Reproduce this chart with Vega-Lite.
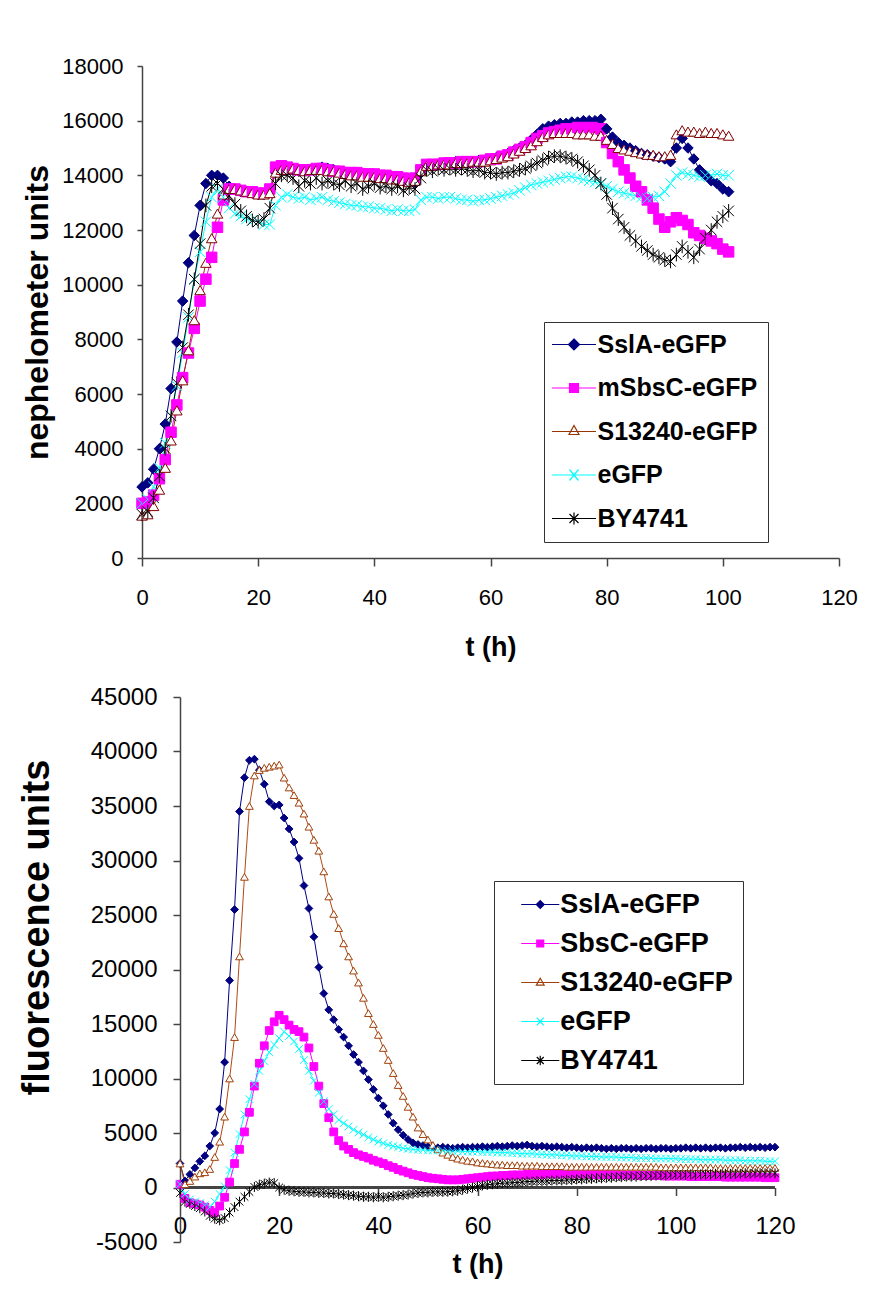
{
"$schema": "https://vega.github.io/schema/vega-lite/v6.json",
"padding": {"left": 18, "top": 55, "right": 5, "bottom": 5},
"background": "white",
"config": {
  "font": "Liberation Sans",
  "view": {"stroke": null},
  "axis": {"grid": false, "domainColor": "#444", "tickColor": "#444", "domainWidth": 1.5, "tickWidth": 1.5, "labelColor": "#000", "titleColor": "#000", "titleFontWeight": "bold", "labelFlush": false, "labelOverlap": false, "labelFont": "Liberation Sans", "titleFont": "Liberation Sans"},
  "legend": {"labelFont": "Liberation Sans", "labelFontWeight": "bold", "labelColor": "#000", "labelLimit": 400}
},
"datasets": {
"top": [
{"t":0,"SslA-eGFP":2600,"mSbsC-eGFP":2000,"S13240-eGFP":1550,"eGFP":2000,"BY4741":1600},
{"t":1,"SslA-eGFP":2750,"mSbsC-eGFP":2050,"S13240-eGFP":1600,"eGFP":2150,"BY4741":1700},
{"t":2,"SslA-eGFP":3250,"mSbsC-eGFP":2300,"S13240-eGFP":1900,"eGFP":2600,"BY4741":2200},
{"t":3,"SslA-eGFP":4000,"mSbsC-eGFP":2900,"S13240-eGFP":2500,"eGFP":3300,"BY4741":3000},
{"t":4,"SslA-eGFP":4900,"mSbsC-eGFP":3600,"S13240-eGFP":3300,"eGFP":4200,"BY4741":4000},
{"t":5,"SslA-eGFP":6200,"mSbsC-eGFP":4600,"S13240-eGFP":4300,"eGFP":5200,"BY4741":5200},
{"t":6,"SslA-eGFP":7900,"mSbsC-eGFP":5600,"S13240-eGFP":5400,"eGFP":6300,"BY4741":6400},
{"t":7,"SslA-eGFP":9400,"mSbsC-eGFP":6600,"S13240-eGFP":6500,"eGFP":7500,"BY4741":7700},
{"t":8,"SslA-eGFP":10800,"mSbsC-eGFP":7500,"S13240-eGFP":7600,"eGFP":8800,"BY4741":8900},
{"t":9,"SslA-eGFP":11800,"mSbsC-eGFP":8400,"S13240-eGFP":8700,"eGFP":10200,"BY4741":10200},
{"t":10,"SslA-eGFP":12900,"mSbsC-eGFP":9400,"S13240-eGFP":9800,"eGFP":11200,"BY4741":11500},
{"t":11,"SslA-eGFP":13700,"mSbsC-eGFP":10200,"S13240-eGFP":10800,"eGFP":12300,"BY4741":12900},
{"t":12,"SslA-eGFP":14000,"mSbsC-eGFP":11000,"S13240-eGFP":11700,"eGFP":13200,"BY4741":13600},
{"t":13,"SslA-eGFP":14000,"mSbsC-eGFP":12100,"S13240-eGFP":12600,"eGFP":13500,"BY4741":13700},
{"t":14,"SslA-eGFP":13900,"mSbsC-eGFP":13100,"S13240-eGFP":13300,"eGFP":13200,"BY4741":13500},
{"t":15,"SslA-eGFP":13600,"mSbsC-eGFP":13500,"S13240-eGFP":13500,"eGFP":12800,"BY4741":13250},
{"t":16,"SslA-eGFP":13500,"mSbsC-eGFP":13500,"S13240-eGFP":13500,"eGFP":12600,"BY4741":12950},
{"t":17,"SslA-eGFP":13400,"mSbsC-eGFP":13450,"S13240-eGFP":13450,"eGFP":12500,"BY4741":12700},
{"t":18,"SslA-eGFP":13400,"mSbsC-eGFP":13400,"S13240-eGFP":13400,"eGFP":12400,"BY4741":12500},
{"t":19,"SslA-eGFP":13350,"mSbsC-eGFP":13400,"S13240-eGFP":13350,"eGFP":12350,"BY4741":12350},
{"t":20,"SslA-eGFP":13300,"mSbsC-eGFP":13350,"S13240-eGFP":13300,"eGFP":12300,"BY4741":12300},
{"t":21,"SslA-eGFP":13300,"mSbsC-eGFP":13350,"S13240-eGFP":13300,"eGFP":12200,"BY4741":12400},
{"t":22,"SslA-eGFP":13400,"mSbsC-eGFP":13500,"S13240-eGFP":13350,"eGFP":12200,"BY4741":12800},
{"t":23,"SslA-eGFP":14100,"mSbsC-eGFP":14300,"S13240-eGFP":14100,"eGFP":12900,"BY4741":13700},
{"t":24,"SslA-eGFP":14300,"mSbsC-eGFP":14350,"S13240-eGFP":14200,"eGFP":13200,"BY4741":14000},
{"t":25,"SslA-eGFP":14300,"mSbsC-eGFP":14300,"S13240-eGFP":14200,"eGFP":13300,"BY4741":14000},
{"t":26,"SslA-eGFP":14200,"mSbsC-eGFP":14250,"S13240-eGFP":14250,"eGFP":13200,"BY4741":13900},
{"t":27,"SslA-eGFP":14150,"mSbsC-eGFP":14200,"S13240-eGFP":14200,"eGFP":13150,"BY4741":13600},
{"t":28,"SslA-eGFP":14200,"mSbsC-eGFP":14200,"S13240-eGFP":14150,"eGFP":13200,"BY4741":13800},
{"t":29,"SslA-eGFP":14200,"mSbsC-eGFP":14200,"S13240-eGFP":14200,"eGFP":13100,"BY4741":13700},
{"t":30,"SslA-eGFP":14250,"mSbsC-eGFP":14250,"S13240-eGFP":14200,"eGFP":13150,"BY4741":13900},
{"t":31,"SslA-eGFP":14300,"mSbsC-eGFP":14250,"S13240-eGFP":14200,"eGFP":13200,"BY4741":13700},
{"t":32,"SslA-eGFP":14250,"mSbsC-eGFP":14200,"S13240-eGFP":14150,"eGFP":13100,"BY4741":13800},
{"t":33,"SslA-eGFP":14200,"mSbsC-eGFP":14150,"S13240-eGFP":14150,"eGFP":13050,"BY4741":13700},
{"t":34,"SslA-eGFP":14150,"mSbsC-eGFP":14150,"S13240-eGFP":14100,"eGFP":13000,"BY4741":13650},
{"t":35,"SslA-eGFP":14100,"mSbsC-eGFP":14100,"S13240-eGFP":14050,"eGFP":12950,"BY4741":13800},
{"t":36,"SslA-eGFP":14100,"mSbsC-eGFP":14100,"S13240-eGFP":14000,"eGFP":12900,"BY4741":13600},
{"t":37,"SslA-eGFP":14050,"mSbsC-eGFP":14100,"S13240-eGFP":14000,"eGFP":12900,"BY4741":13700},
{"t":38,"SslA-eGFP":14000,"mSbsC-eGFP":14050,"S13240-eGFP":13950,"eGFP":12850,"BY4741":13500},
{"t":39,"SslA-eGFP":14000,"mSbsC-eGFP":14050,"S13240-eGFP":13950,"eGFP":12850,"BY4741":13600},
{"t":40,"SslA-eGFP":14000,"mSbsC-eGFP":14050,"S13240-eGFP":13950,"eGFP":12800,"BY4741":13700},
{"t":41,"SslA-eGFP":13950,"mSbsC-eGFP":14000,"S13240-eGFP":13900,"eGFP":12800,"BY4741":13550},
{"t":42,"SslA-eGFP":13900,"mSbsC-eGFP":14000,"S13240-eGFP":13900,"eGFP":12750,"BY4741":13600},
{"t":43,"SslA-eGFP":13900,"mSbsC-eGFP":13950,"S13240-eGFP":13850,"eGFP":12700,"BY4741":13500},
{"t":44,"SslA-eGFP":13850,"mSbsC-eGFP":13950,"S13240-eGFP":13850,"eGFP":12750,"BY4741":13600},
{"t":45,"SslA-eGFP":13800,"mSbsC-eGFP":13900,"S13240-eGFP":13800,"eGFP":12700,"BY4741":13450},
{"t":46,"SslA-eGFP":13750,"mSbsC-eGFP":13850,"S13240-eGFP":13750,"eGFP":12700,"BY4741":13550},
{"t":47,"SslA-eGFP":13750,"mSbsC-eGFP":13900,"S13240-eGFP":13800,"eGFP":12750,"BY4741":13500},
{"t":48,"SslA-eGFP":14100,"mSbsC-eGFP":14200,"S13240-eGFP":14150,"eGFP":13100,"BY4741":13900},
{"t":49,"SslA-eGFP":14350,"mSbsC-eGFP":14400,"S13240-eGFP":14350,"eGFP":13200,"BY4741":14200},
{"t":50,"SslA-eGFP":14400,"mSbsC-eGFP":14400,"S13240-eGFP":14350,"eGFP":13200,"BY4741":14150},
{"t":51,"SslA-eGFP":14400,"mSbsC-eGFP":14400,"S13240-eGFP":14400,"eGFP":13150,"BY4741":14250},
{"t":52,"SslA-eGFP":14450,"mSbsC-eGFP":14450,"S13240-eGFP":14400,"eGFP":13200,"BY4741":14200},
{"t":53,"SslA-eGFP":14450,"mSbsC-eGFP":14450,"S13240-eGFP":14400,"eGFP":13200,"BY4741":14250},
{"t":54,"SslA-eGFP":14500,"mSbsC-eGFP":14450,"S13240-eGFP":14450,"eGFP":13150,"BY4741":14200},
{"t":55,"SslA-eGFP":14500,"mSbsC-eGFP":14500,"S13240-eGFP":14450,"eGFP":13100,"BY4741":14250},
{"t":56,"SslA-eGFP":14500,"mSbsC-eGFP":14500,"S13240-eGFP":14450,"eGFP":13100,"BY4741":14200},
{"t":57,"SslA-eGFP":14500,"mSbsC-eGFP":14500,"S13240-eGFP":14500,"eGFP":13050,"BY4741":14150},
{"t":58,"SslA-eGFP":14550,"mSbsC-eGFP":14500,"S13240-eGFP":14500,"eGFP":13100,"BY4741":14200},
{"t":59,"SslA-eGFP":14550,"mSbsC-eGFP":14550,"S13240-eGFP":14500,"eGFP":13100,"BY4741":14100},
{"t":60,"SslA-eGFP":14600,"mSbsC-eGFP":14600,"S13240-eGFP":14550,"eGFP":13150,"BY4741":14100},
{"t":61,"SslA-eGFP":14650,"mSbsC-eGFP":14600,"S13240-eGFP":14600,"eGFP":13200,"BY4741":14050},
{"t":62,"SslA-eGFP":14700,"mSbsC-eGFP":14700,"S13240-eGFP":14650,"eGFP":13250,"BY4741":14100},
{"t":63,"SslA-eGFP":14800,"mSbsC-eGFP":14750,"S13240-eGFP":14700,"eGFP":13300,"BY4741":14100},
{"t":64,"SslA-eGFP":14900,"mSbsC-eGFP":14850,"S13240-eGFP":14800,"eGFP":13350,"BY4741":14150},
{"t":65,"SslA-eGFP":15000,"mSbsC-eGFP":14950,"S13240-eGFP":14900,"eGFP":13450,"BY4741":14200},
{"t":66,"SslA-eGFP":15100,"mSbsC-eGFP":15050,"S13240-eGFP":15000,"eGFP":13550,"BY4741":14250},
{"t":67,"SslA-eGFP":15300,"mSbsC-eGFP":15200,"S13240-eGFP":15100,"eGFP":13650,"BY4741":14350},
{"t":68,"SslA-eGFP":15500,"mSbsC-eGFP":15350,"S13240-eGFP":15250,"eGFP":13700,"BY4741":14450},
{"t":69,"SslA-eGFP":15700,"mSbsC-eGFP":15450,"S13240-eGFP":15400,"eGFP":13750,"BY4741":14550},
{"t":70,"SslA-eGFP":15800,"mSbsC-eGFP":15550,"S13240-eGFP":15500,"eGFP":13800,"BY4741":14650},
{"t":71,"SslA-eGFP":15850,"mSbsC-eGFP":15600,"S13240-eGFP":15550,"eGFP":13850,"BY4741":14700},
{"t":72,"SslA-eGFP":15900,"mSbsC-eGFP":15650,"S13240-eGFP":15550,"eGFP":13900,"BY4741":14700},
{"t":73,"SslA-eGFP":15900,"mSbsC-eGFP":15700,"S13240-eGFP":15550,"eGFP":13950,"BY4741":14650},
{"t":74,"SslA-eGFP":15950,"mSbsC-eGFP":15700,"S13240-eGFP":15550,"eGFP":13950,"BY4741":14600},
{"t":75,"SslA-eGFP":15950,"mSbsC-eGFP":15750,"S13240-eGFP":15500,"eGFP":13900,"BY4741":14500},
{"t":76,"SslA-eGFP":16000,"mSbsC-eGFP":15750,"S13240-eGFP":15500,"eGFP":13850,"BY4741":14350},
{"t":77,"SslA-eGFP":16000,"mSbsC-eGFP":15750,"S13240-eGFP":15500,"eGFP":13800,"BY4741":14200},
{"t":78,"SslA-eGFP":16000,"mSbsC-eGFP":15750,"S13240-eGFP":15450,"eGFP":13750,"BY4741":14000},
{"t":79,"SslA-eGFP":16050,"mSbsC-eGFP":15700,"S13240-eGFP":15450,"eGFP":13700,"BY4741":13700},
{"t":80,"SslA-eGFP":15700,"mSbsC-eGFP":15200,"S13240-eGFP":15300,"eGFP":13600,"BY4741":13300},
{"t":81,"SslA-eGFP":15400,"mSbsC-eGFP":14800,"S13240-eGFP":15150,"eGFP":13500,"BY4741":12800},
{"t":82,"SslA-eGFP":15200,"mSbsC-eGFP":14500,"S13240-eGFP":15000,"eGFP":13400,"BY4741":12400},
{"t":83,"SslA-eGFP":15100,"mSbsC-eGFP":14200,"S13240-eGFP":14950,"eGFP":13350,"BY4741":12100},
{"t":84,"SslA-eGFP":15000,"mSbsC-eGFP":13900,"S13240-eGFP":14900,"eGFP":13300,"BY4741":11800},
{"t":85,"SslA-eGFP":14900,"mSbsC-eGFP":13600,"S13240-eGFP":14850,"eGFP":13250,"BY4741":11600},
{"t":86,"SslA-eGFP":14800,"mSbsC-eGFP":13400,"S13240-eGFP":14800,"eGFP":13200,"BY4741":11400},
{"t":87,"SslA-eGFP":14750,"mSbsC-eGFP":13100,"S13240-eGFP":14750,"eGFP":13150,"BY4741":11250},
{"t":88,"SslA-eGFP":14700,"mSbsC-eGFP":12800,"S13240-eGFP":14750,"eGFP":13200,"BY4741":11100},
{"t":89,"SslA-eGFP":14650,"mSbsC-eGFP":12400,"S13240-eGFP":14700,"eGFP":13250,"BY4741":11000},
{"t":90,"SslA-eGFP":14600,"mSbsC-eGFP":12100,"S13240-eGFP":14700,"eGFP":13400,"BY4741":10900},
{"t":91,"SslA-eGFP":14500,"mSbsC-eGFP":12300,"S13240-eGFP":14750,"eGFP":13700,"BY4741":10850},
{"t":92,"SslA-eGFP":15000,"mSbsC-eGFP":12450,"S13240-eGFP":15500,"eGFP":14000,"BY4741":11100},
{"t":93,"SslA-eGFP":15350,"mSbsC-eGFP":12350,"S13240-eGFP":15650,"eGFP":14100,"BY4741":11400},
{"t":94,"SslA-eGFP":15000,"mSbsC-eGFP":12200,"S13240-eGFP":15600,"eGFP":14050,"BY4741":11200},
{"t":95,"SslA-eGFP":14600,"mSbsC-eGFP":11900,"S13240-eGFP":15600,"eGFP":14000,"BY4741":11000},
{"t":96,"SslA-eGFP":14200,"mSbsC-eGFP":11800,"S13240-eGFP":15550,"eGFP":13950,"BY4741":11300},
{"t":97,"SslA-eGFP":14000,"mSbsC-eGFP":11700,"S13240-eGFP":15600,"eGFP":14000,"BY4741":11700},
{"t":98,"SslA-eGFP":13800,"mSbsC-eGFP":11600,"S13240-eGFP":15550,"eGFP":14000,"BY4741":12000},
{"t":99,"SslA-eGFP":13700,"mSbsC-eGFP":11500,"S13240-eGFP":15550,"eGFP":14050,"BY4741":12300},
{"t":100,"SslA-eGFP":13500,"mSbsC-eGFP":11300,"S13240-eGFP":15500,"eGFP":14000,"BY4741":12500},
{"t":101,"SslA-eGFP":13400,"mSbsC-eGFP":11200,"S13240-eGFP":15450,"eGFP":14000,"BY4741":12700}
],
"bottom": [
{"t":0,"SslA-eGFP":2200,"SbsC-eGFP":300,"S13240-eGFP":2200,"eGFP":300,"BY4741":-500},
{"t":1,"SslA-eGFP":600,"SbsC-eGFP":-1000,"S13240-eGFP":300,"eGFP":-600,"BY4741":-1300},
{"t":2,"SslA-eGFP":1200,"SbsC-eGFP":-1400,"S13240-eGFP":600,"eGFP":-1100,"BY4741":-1500},
{"t":3,"SslA-eGFP":1800,"SbsC-eGFP":-1500,"S13240-eGFP":1000,"eGFP":-1300,"BY4741":-1700},
{"t":4,"SslA-eGFP":2400,"SbsC-eGFP":-1600,"S13240-eGFP":1300,"eGFP":-1450,"BY4741":-1900},
{"t":5,"SslA-eGFP":2900,"SbsC-eGFP":-1800,"S13240-eGFP":1400,"eGFP":-1650,"BY4741":-2200},
{"t":6,"SslA-eGFP":3800,"SbsC-eGFP":-2100,"S13240-eGFP":1700,"eGFP":-1800,"BY4741":-2600},
{"t":7,"SslA-eGFP":5000,"SbsC-eGFP":-2300,"S13240-eGFP":2800,"eGFP":-1300,"BY4741":-2850},
{"t":8,"SslA-eGFP":7200,"SbsC-eGFP":-1700,"S13240-eGFP":4200,"eGFP":-600,"BY4741":-3000},
{"t":9,"SslA-eGFP":11500,"SbsC-eGFP":-900,"S13240-eGFP":6500,"eGFP":100,"BY4741":-2800},
{"t":10,"SslA-eGFP":19000,"SbsC-eGFP":500,"S13240-eGFP":10000,"eGFP":1600,"BY4741":-2300},
{"t":11,"SslA-eGFP":25500,"SbsC-eGFP":2200,"S13240-eGFP":13800,"eGFP":3200,"BY4741":-1800},
{"t":12,"SslA-eGFP":34500,"SbsC-eGFP":3500,"S13240-eGFP":21200,"eGFP":4900,"BY4741":-1300},
{"t":13,"SslA-eGFP":37600,"SbsC-eGFP":5100,"S13240-eGFP":28500,"eGFP":6700,"BY4741":-850},
{"t":14,"SslA-eGFP":39200,"SbsC-eGFP":6900,"S13240-eGFP":35000,"eGFP":8100,"BY4741":-400},
{"t":15,"SslA-eGFP":39300,"SbsC-eGFP":9300,"S13240-eGFP":37800,"eGFP":9500,"BY4741":50},
{"t":16,"SslA-eGFP":38300,"SbsC-eGFP":11400,"S13240-eGFP":38300,"eGFP":10700,"BY4741":250},
{"t":17,"SslA-eGFP":37000,"SbsC-eGFP":13000,"S13240-eGFP":38500,"eGFP":11600,"BY4741":350},
{"t":18,"SslA-eGFP":35400,"SbsC-eGFP":14400,"S13240-eGFP":38600,"eGFP":12400,"BY4741":450},
{"t":19,"SslA-eGFP":35000,"SbsC-eGFP":15200,"S13240-eGFP":38700,"eGFP":13100,"BY4741":400},
{"t":20,"SslA-eGFP":35100,"SbsC-eGFP":15800,"S13240-eGFP":38800,"eGFP":13700,"BY4741":0},
{"t":21,"SslA-eGFP":33900,"SbsC-eGFP":15400,"S13240-eGFP":37600,"eGFP":14300,"BY4741":-200},
{"t":22,"SslA-eGFP":32900,"SbsC-eGFP":14900,"S13240-eGFP":36700,"eGFP":13900,"BY4741":-300},
{"t":23,"SslA-eGFP":31700,"SbsC-eGFP":14500,"S13240-eGFP":36000,"eGFP":13400,"BY4741":-350},
{"t":24,"SslA-eGFP":30200,"SbsC-eGFP":14300,"S13240-eGFP":35300,"eGFP":12700,"BY4741":-400},
{"t":25,"SslA-eGFP":27700,"SbsC-eGFP":13800,"S13240-eGFP":34300,"eGFP":11700,"BY4741":-400},
{"t":26,"SslA-eGFP":25600,"SbsC-eGFP":12800,"S13240-eGFP":33100,"eGFP":10700,"BY4741":-450},
{"t":27,"SslA-eGFP":23000,"SbsC-eGFP":11100,"S13240-eGFP":31900,"eGFP":9800,"BY4741":-450},
{"t":28,"SslA-eGFP":20200,"SbsC-eGFP":9300,"S13240-eGFP":30900,"eGFP":8700,"BY4741":-500},
{"t":29,"SslA-eGFP":17800,"SbsC-eGFP":7700,"S13240-eGFP":29000,"eGFP":7900,"BY4741":-500},
{"t":30,"SslA-eGFP":16300,"SbsC-eGFP":6400,"S13240-eGFP":26700,"eGFP":7200,"BY4741":-550},
{"t":31,"SslA-eGFP":15400,"SbsC-eGFP":5100,"S13240-eGFP":25100,"eGFP":6700,"BY4741":-550},
{"t":32,"SslA-eGFP":14500,"SbsC-eGFP":4300,"S13240-eGFP":23800,"eGFP":6200,"BY4741":-600},
{"t":33,"SslA-eGFP":13800,"SbsC-eGFP":3800,"S13240-eGFP":22400,"eGFP":5900,"BY4741":-650},
{"t":34,"SslA-eGFP":13000,"SbsC-eGFP":3500,"S13240-eGFP":21200,"eGFP":5600,"BY4741":-700},
{"t":35,"SslA-eGFP":12200,"SbsC-eGFP":3200,"S13240-eGFP":19900,"eGFP":5300,"BY4741":-750},
{"t":36,"SslA-eGFP":11500,"SbsC-eGFP":3000,"S13240-eGFP":18800,"eGFP":5050,"BY4741":-800},
{"t":37,"SslA-eGFP":10700,"SbsC-eGFP":2850,"S13240-eGFP":17400,"eGFP":4850,"BY4741":-850},
{"t":38,"SslA-eGFP":9900,"SbsC-eGFP":2700,"S13240-eGFP":16000,"eGFP":4600,"BY4741":-850},
{"t":39,"SslA-eGFP":9000,"SbsC-eGFP":2500,"S13240-eGFP":15000,"eGFP":4400,"BY4741":-900},
{"t":40,"SslA-eGFP":8200,"SbsC-eGFP":2350,"S13240-eGFP":14000,"eGFP":4200,"BY4741":-850},
{"t":41,"SslA-eGFP":7500,"SbsC-eGFP":2200,"S13240-eGFP":12800,"eGFP":4050,"BY4741":-900},
{"t":42,"SslA-eGFP":6700,"SbsC-eGFP":2000,"S13240-eGFP":11700,"eGFP":3900,"BY4741":-850},
{"t":43,"SslA-eGFP":5900,"SbsC-eGFP":1850,"S13240-eGFP":10500,"eGFP":3800,"BY4741":-800},
{"t":44,"SslA-eGFP":5300,"SbsC-eGFP":1650,"S13240-eGFP":9400,"eGFP":3700,"BY4741":-750},
{"t":45,"SslA-eGFP":4800,"SbsC-eGFP":1500,"S13240-eGFP":8400,"eGFP":3600,"BY4741":-700},
{"t":46,"SslA-eGFP":4400,"SbsC-eGFP":1350,"S13240-eGFP":7400,"eGFP":3550,"BY4741":-650},
{"t":47,"SslA-eGFP":4100,"SbsC-eGFP":1200,"S13240-eGFP":6500,"eGFP":3500,"BY4741":-550},
{"t":48,"SslA-eGFP":3950,"SbsC-eGFP":1100,"S13240-eGFP":5500,"eGFP":3450,"BY4741":-500},
{"t":49,"SslA-eGFP":3850,"SbsC-eGFP":1000,"S13240-eGFP":4900,"eGFP":3450,"BY4741":-450},
{"t":50,"SslA-eGFP":3750,"SbsC-eGFP":900,"S13240-eGFP":4400,"eGFP":3400,"BY4741":-450},
{"t":51,"SslA-eGFP":3700,"SbsC-eGFP":850,"S13240-eGFP":3900,"eGFP":3400,"BY4741":-400},
{"t":52,"SslA-eGFP":3650,"SbsC-eGFP":800,"S13240-eGFP":3500,"eGFP":3400,"BY4741":-400},
{"t":53,"SslA-eGFP":3700,"SbsC-eGFP":750,"S13240-eGFP":3200,"eGFP":3400,"BY4741":-400},
{"t":54,"SslA-eGFP":3650,"SbsC-eGFP":700,"S13240-eGFP":3000,"eGFP":3350,"BY4741":-380},
{"t":55,"SslA-eGFP":3600,"SbsC-eGFP":700,"S13240-eGFP":2800,"eGFP":3350,"BY4741":-350},
{"t":56,"SslA-eGFP":3650,"SbsC-eGFP":700,"S13240-eGFP":2650,"eGFP":3350,"BY4741":-300},
{"t":57,"SslA-eGFP":3700,"SbsC-eGFP":750,"S13240-eGFP":2550,"eGFP":3300,"BY4741":-200},
{"t":58,"SslA-eGFP":3650,"SbsC-eGFP":800,"S13240-eGFP":2450,"eGFP":3300,"BY4741":-100},
{"t":59,"SslA-eGFP":3700,"SbsC-eGFP":850,"S13240-eGFP":2400,"eGFP":3300,"BY4741":0},
{"t":60,"SslA-eGFP":3700,"SbsC-eGFP":900,"S13240-eGFP":2300,"eGFP":3300,"BY4741":100},
{"t":61,"SslA-eGFP":3750,"SbsC-eGFP":950,"S13240-eGFP":2250,"eGFP":3250,"BY4741":200},
{"t":62,"SslA-eGFP":3700,"SbsC-eGFP":1000,"S13240-eGFP":2200,"eGFP":3250,"BY4741":250},
{"t":63,"SslA-eGFP":3750,"SbsC-eGFP":1050,"S13240-eGFP":2150,"eGFP":3250,"BY4741":300},
{"t":64,"SslA-eGFP":3800,"SbsC-eGFP":1050,"S13240-eGFP":2100,"eGFP":3200,"BY4741":350},
{"t":65,"SslA-eGFP":3750,"SbsC-eGFP":1100,"S13240-eGFP":2100,"eGFP":3200,"BY4741":400},
{"t":66,"SslA-eGFP":3800,"SbsC-eGFP":1100,"S13240-eGFP":2050,"eGFP":3200,"BY4741":400},
{"t":67,"SslA-eGFP":3850,"SbsC-eGFP":1150,"S13240-eGFP":2050,"eGFP":3150,"BY4741":450},
{"t":68,"SslA-eGFP":3800,"SbsC-eGFP":1150,"S13240-eGFP":2050,"eGFP":3150,"BY4741":450},
{"t":69,"SslA-eGFP":3850,"SbsC-eGFP":1150,"S13240-eGFP":2000,"eGFP":3100,"BY4741":500},
{"t":70,"SslA-eGFP":3900,"SbsC-eGFP":1200,"S13240-eGFP":2000,"eGFP":3100,"BY4741":550},
{"t":71,"SslA-eGFP":3800,"SbsC-eGFP":1200,"S13240-eGFP":2000,"eGFP":3100,"BY4741":550},
{"t":72,"SslA-eGFP":3750,"SbsC-eGFP":1200,"S13240-eGFP":2000,"eGFP":3050,"BY4741":600},
{"t":73,"SslA-eGFP":3800,"SbsC-eGFP":1200,"S13240-eGFP":1950,"eGFP":3050,"BY4741":600},
{"t":74,"SslA-eGFP":3750,"SbsC-eGFP":1250,"S13240-eGFP":1950,"eGFP":3000,"BY4741":600},
{"t":75,"SslA-eGFP":3700,"SbsC-eGFP":1250,"S13240-eGFP":1950,"eGFP":3000,"BY4741":650},
{"t":76,"SslA-eGFP":3750,"SbsC-eGFP":1250,"S13240-eGFP":1950,"eGFP":3000,"BY4741":650},
{"t":77,"SslA-eGFP":3700,"SbsC-eGFP":1250,"S13240-eGFP":1950,"eGFP":2950,"BY4741":650},
{"t":78,"SslA-eGFP":3650,"SbsC-eGFP":1250,"S13240-eGFP":1900,"eGFP":2950,"BY4741":700},
{"t":79,"SslA-eGFP":3700,"SbsC-eGFP":1250,"S13240-eGFP":1900,"eGFP":2900,"BY4741":700},
{"t":80,"SslA-eGFP":3650,"SbsC-eGFP":1250,"S13240-eGFP":1900,"eGFP":2900,"BY4741":750},
{"t":81,"SslA-eGFP":3600,"SbsC-eGFP":1250,"S13240-eGFP":1900,"eGFP":2900,"BY4741":750},
{"t":82,"SslA-eGFP":3650,"SbsC-eGFP":1250,"S13240-eGFP":1900,"eGFP":2850,"BY4741":800},
{"t":83,"SslA-eGFP":3600,"SbsC-eGFP":1250,"S13240-eGFP":1900,"eGFP":2850,"BY4741":800},
{"t":84,"SslA-eGFP":3650,"SbsC-eGFP":1200,"S13240-eGFP":1900,"eGFP":2850,"BY4741":850},
{"t":85,"SslA-eGFP":3600,"SbsC-eGFP":1200,"S13240-eGFP":1900,"eGFP":2800,"BY4741":850},
{"t":86,"SslA-eGFP":3550,"SbsC-eGFP":1200,"S13240-eGFP":1900,"eGFP":2800,"BY4741":900},
{"t":87,"SslA-eGFP":3600,"SbsC-eGFP":1200,"S13240-eGFP":1900,"eGFP":2800,"BY4741":900},
{"t":88,"SslA-eGFP":3550,"SbsC-eGFP":1200,"S13240-eGFP":1900,"eGFP":2800,"BY4741":950},
{"t":89,"SslA-eGFP":3600,"SbsC-eGFP":1150,"S13240-eGFP":1900,"eGFP":2750,"BY4741":950},
{"t":90,"SslA-eGFP":3600,"SbsC-eGFP":1150,"S13240-eGFP":1900,"eGFP":2750,"BY4741":1000},
{"t":91,"SslA-eGFP":3550,"SbsC-eGFP":1150,"S13240-eGFP":1900,"eGFP":2750,"BY4741":1000},
{"t":92,"SslA-eGFP":3600,"SbsC-eGFP":1150,"S13240-eGFP":1900,"eGFP":2700,"BY4741":1000},
{"t":93,"SslA-eGFP":3550,"SbsC-eGFP":1100,"S13240-eGFP":1900,"eGFP":2700,"BY4741":1050},
{"t":94,"SslA-eGFP":3600,"SbsC-eGFP":1100,"S13240-eGFP":1900,"eGFP":2700,"BY4741":1050},
{"t":95,"SslA-eGFP":3600,"SbsC-eGFP":1100,"S13240-eGFP":1900,"eGFP":2700,"BY4741":1050},
{"t":96,"SslA-eGFP":3550,"SbsC-eGFP":1100,"S13240-eGFP":1900,"eGFP":2650,"BY4741":1100},
{"t":97,"SslA-eGFP":3600,"SbsC-eGFP":1100,"S13240-eGFP":1850,"eGFP":2650,"BY4741":1100},
{"t":98,"SslA-eGFP":3600,"SbsC-eGFP":1050,"S13240-eGFP":1850,"eGFP":2650,"BY4741":1100},
{"t":99,"SslA-eGFP":3550,"SbsC-eGFP":1050,"S13240-eGFP":1850,"eGFP":2650,"BY4741":1150},
{"t":100,"SslA-eGFP":3600,"SbsC-eGFP":1050,"S13240-eGFP":1850,"eGFP":2650,"BY4741":1150},
{"t":101,"SslA-eGFP":3600,"SbsC-eGFP":1050,"S13240-eGFP":1850,"eGFP":2600,"BY4741":1150},
{"t":102,"SslA-eGFP":3650,"SbsC-eGFP":1050,"S13240-eGFP":1850,"eGFP":2600,"BY4741":1150},
{"t":103,"SslA-eGFP":3600,"SbsC-eGFP":1000,"S13240-eGFP":1850,"eGFP":2600,"BY4741":1200},
{"t":104,"SslA-eGFP":3650,"SbsC-eGFP":1000,"S13240-eGFP":1850,"eGFP":2600,"BY4741":1150},
{"t":105,"SslA-eGFP":3600,"SbsC-eGFP":1000,"S13240-eGFP":1850,"eGFP":2550,"BY4741":1200},
{"t":106,"SslA-eGFP":3650,"SbsC-eGFP":1000,"S13240-eGFP":1850,"eGFP":2550,"BY4741":1200},
{"t":107,"SslA-eGFP":3600,"SbsC-eGFP":1000,"S13240-eGFP":1850,"eGFP":2550,"BY4741":1200},
{"t":108,"SslA-eGFP":3650,"SbsC-eGFP":1000,"S13240-eGFP":1800,"eGFP":2550,"BY4741":1250},
{"t":109,"SslA-eGFP":3650,"SbsC-eGFP":1000,"S13240-eGFP":1800,"eGFP":2550,"BY4741":1200},
{"t":110,"SslA-eGFP":3600,"SbsC-eGFP":950,"S13240-eGFP":1800,"eGFP":2500,"BY4741":1250},
{"t":111,"SslA-eGFP":3650,"SbsC-eGFP":950,"S13240-eGFP":1800,"eGFP":2500,"BY4741":1250},
{"t":112,"SslA-eGFP":3650,"SbsC-eGFP":950,"S13240-eGFP":1800,"eGFP":2500,"BY4741":1250},
{"t":113,"SslA-eGFP":3700,"SbsC-eGFP":950,"S13240-eGFP":1800,"eGFP":2500,"BY4741":1250},
{"t":114,"SslA-eGFP":3650,"SbsC-eGFP":950,"S13240-eGFP":1800,"eGFP":2450,"BY4741":1300},
{"t":115,"SslA-eGFP":3700,"SbsC-eGFP":950,"S13240-eGFP":1800,"eGFP":2450,"BY4741":1250},
{"t":116,"SslA-eGFP":3650,"SbsC-eGFP":950,"S13240-eGFP":1800,"eGFP":2450,"BY4741":1300},
{"t":117,"SslA-eGFP":3700,"SbsC-eGFP":950,"S13240-eGFP":1800,"eGFP":2450,"BY4741":1300},
{"t":118,"SslA-eGFP":3650,"SbsC-eGFP":900,"S13240-eGFP":1800,"eGFP":2400,"BY4741":1300},
{"t":119,"SslA-eGFP":3700,"SbsC-eGFP":900,"S13240-eGFP":1800,"eGFP":2400,"BY4741":1300},
{"t":120,"SslA-eGFP":3700,"SbsC-eGFP":900,"S13240-eGFP":1800,"eGFP":2400,"BY4741":1300}
]
},
"spacing": 25,
"resolve": {
  "scale": {"color": "independent", "stroke": "independent", "fill": "independent", "shape": "independent"},
  "legend": {"color": "independent", "stroke": "independent", "fill": "independent", "shape": "independent"}
},
"vconcat": [
{
  "width": 697,
  "height": 492,
  "data": {"name": "top"},
  "transform": [{"fold": ["SslA-eGFP", "mSbsC-eGFP", "S13240-eGFP", "eGFP", "BY4741"], "as": ["series", "value"]}],
  "resolve": {
    "scale": {"stroke": "independent", "fill": "independent", "shape": "independent"},
    "legend": {"stroke": "independent", "fill": "independent", "shape": "independent"}
  },
  "encoding": {
    "x": {"field": "t", "type": "quantitative", "scale": {"domain": [0, 120], "nice": false},
      "axis": {"values": [0, 20, 40, 60, 80, 100, 120], "title": "t (h)", "tickSize": 8, "labelPadding": 21, "labelFontSize": 22, "titleFontSize": 27, "titlePadding": 26}},
    "y": {"field": "value", "type": "quantitative", "scale": {"domain": [0, 18000], "nice": false},
      "axis": {"values": [0, 2000, 4000, 6000, 8000, 10000, 12000, 14000, 16000, 18000], "format": "d", "title": "nephelometer units", "tickSize": 5, "labelPadding": 14, "labelFontSize": 22, "titleFontSize": 32, "titlePadding": 7}}
  },
  "layer": [
    {"mark": {"type": "line", "strokeWidth": 1},
     "encoding": {"color": {"field": "series", "type": "nominal", "legend": null,
       "scale": {"domain": ["BY4741", "eGFP", "S13240-eGFP", "mSbsC-eGFP", "SslA-eGFP"], "range": ["#000000", "#00FFFF", "#993300", "#FF00FF", "#000080"]}}}},
    {"mark": {"type": "point", "opacity": 1, "strokeWidth": 1, "size": 110},
     "encoding": {
       "shape": {"field": "series", "type": "nominal", "legend": null,
         "scale": {"domain": ["SslA-eGFP", "mSbsC-eGFP", "S13240-eGFP", "eGFP", "BY4741"], "range": ["diamond", "square", "triangle-up", "M-1,-1L1,1M-1,1L1,-1", "M-1,-1L1,1M-1,1L1,-1M0,-1.3V1.3"]}},
       "stroke": {"field": "series", "type": "nominal", "legend": null,
         "scale": {"domain": ["SslA-eGFP", "mSbsC-eGFP", "S13240-eGFP", "eGFP", "BY4741"], "range": ["#000080", "#FF00FF", "#800000", "#00FFFF", "#000000"]}},
       "fill": {"field": "series", "type": "nominal", "legend": null,
         "scale": {"domain": ["SslA-eGFP", "mSbsC-eGFP", "S13240-eGFP", "eGFP", "BY4741"], "range": ["#000080", "#FF00FF", "#FFFFFF", "transparent", "transparent"]}}
     }},
    {"mark": {"type": "point", "opacity": 0, "strokeWidth": 1.2, "size": 110},
     "encoding": {
       "shape": {"field": "series", "type": "nominal",
         "scale": {"domain": ["SslA-eGFP", "mSbsC-eGFP", "S13240-eGFP", "eGFP", "BY4741"], "range": ["M-2.2,0H2.2M0,-0.55L0.55,0L0,0.55L-0.55,0Z", "M-2.2,0H2.2M-0.45,-0.45H0.45V0.45H-0.45Z", "M-2.2,0H2.2M0,-0.6L0.5,0.3H-0.5Z", "M-2.2,0H2.2M-0.45,-0.55L0.45,0.55M-0.45,0.55L0.45,-0.55", "M-2.2,0H2.2M-0.45,-0.45L0.45,0.45M-0.45,0.45L0.45,-0.45M0,-0.6V0.6"]},
         "legend": {"orient": "none", "legendX": 402, "legendY": 256, "title": null, "padding": 10, "strokeColor": "#333", "fillColor": "white",
           "symbolSize": 400, "symbolOffset": 7.5, "labelOffset": 11, "labelFontSize": 25, "labelFontWeight": "bold", "rowPadding": 17.5, "symbolStrokeWidth": 1.2, "symbolOpacity": 1}},
       "stroke": {"field": "series", "type": "nominal",
         "scale": {"domain": ["SslA-eGFP", "mSbsC-eGFP", "S13240-eGFP", "eGFP", "BY4741"], "range": ["#000080", "#FF00FF", "#993300", "#00FFFF", "#000000"]}},
       "fill": {"field": "series", "type": "nominal",
         "scale": {"domain": ["SslA-eGFP", "mSbsC-eGFP", "S13240-eGFP", "eGFP", "BY4741"], "range": ["#000080", "#FF00FF", "#FFFFFF", "transparent", "transparent"]}}
     }}
  ]
},
{
  "width": 633,
  "height": 545,
  "data": {"name": "bottom"},
  "transform": [{"fold": ["SslA-eGFP", "SbsC-eGFP", "S13240-eGFP", "eGFP", "BY4741"], "as": ["series", "value"]}],
  "resolve": {
    "scale": {"stroke": "independent", "fill": "independent", "shape": "independent"},
    "legend": {"stroke": "independent", "fill": "independent", "shape": "independent"}
  },
  "encoding": {
    "x": {"field": "t", "type": "quantitative", "scale": {"domain": [-7.664, 120], "nice": false},
      "axis": {"values": [0, 20, 40, 60, 80, 100, 120], "title": "t (h)", "domain": false, "offset": -54.5, "tickSize": 8, "labelPadding": 19, "labelFontSize": 24, "titleFontSize": 27, "titlePadding": 13, "titleX": 335.5}},
    "y": {"field": "value", "type": "quantitative", "scale": {"domain": [-5000, 45000], "nice": false},
      "axis": {"values": [-5000, 0, 5000, 10000, 15000, 20000, 25000, 30000, 35000, 40000, 45000], "labelExpr": "'' + datum.value", "title": "fluorescence units", "offset": -38, "tickSize": 7, "labelPadding": 16, "labelFontSize": 24, "titleFontSize": 38, "titlePadding": 34, "titleY": 230}}
  },
  "layer": [
    {"mark": {"type": "rule", "color": "#444", "strokeWidth": 1.5},
     "encoding": {"x": {"datum": 0, "type": "quantitative"}, "x2": {"datum": 120}, "y": {"datum": 0, "type": "quantitative"}}},
    {"mark": {"type": "line", "strokeWidth": 1},
     "encoding": {"color": {"field": "series", "type": "nominal", "legend": null,
       "scale": {"domain": ["BY4741", "eGFP", "S13240-eGFP", "SbsC-eGFP", "SslA-eGFP"], "range": ["#000000", "#00FFFF", "#B04A14", "#FF00FF", "#000080"]}}}},
    {"mark": {"type": "point", "opacity": 1, "strokeWidth": 1, "size": 60},
     "encoding": {
       "shape": {"field": "series", "type": "nominal", "legend": null,
         "scale": {"domain": ["SslA-eGFP", "SbsC-eGFP", "S13240-eGFP", "eGFP", "BY4741"], "range": ["diamond", "square", "triangle-up", "M-1,-1L1,1M-1,1L1,-1", "M-1,-1L1,1M-1,1L1,-1M0,-1.3V1.3"]}},
       "stroke": {"field": "series", "type": "nominal", "legend": null,
         "scale": {"domain": ["SslA-eGFP", "SbsC-eGFP", "S13240-eGFP", "eGFP", "BY4741"], "range": ["#000080", "#FF00FF", "#A0400A", "#00FFFF", "#000000"]}},
       "fill": {"field": "series", "type": "nominal", "legend": null,
         "scale": {"domain": ["SslA-eGFP", "SbsC-eGFP", "S13240-eGFP", "eGFP", "BY4741"], "range": ["#000080", "#FF00FF", "#FFFFFF", "transparent", "transparent"]}}
     }},
    {"mark": {"type": "point", "opacity": 0, "strokeWidth": 1.2, "size": 60},
     "encoding": {
       "shape": {"field": "series", "type": "nominal",
         "scale": {"domain": ["SslA-eGFP", "SbsC-eGFP", "S13240-eGFP", "eGFP", "BY4741"], "range": ["M-2.2,0H2.2M0,-0.45L0.45,0L0,0.45L-0.45,0Z", "M-2.2,0H2.2M-0.4,-0.4H0.4V0.4H-0.4Z", "M-2.2,0H2.2M0,-0.5L0.45,0.3H-0.45Z", "M-2.2,0H2.2M-0.4,-0.45L0.4,0.45M-0.4,0.45L0.4,-0.45", "M-2.2,0H2.2M-0.4,-0.4L0.4,0.4M-0.4,0.4L0.4,-0.4M0,-0.55V0.55"]},
         "legend": {"orient": "none", "legendX": 352, "legendY": 184, "title": null, "padding": 10, "strokeColor": "#333", "fillColor": "white",
           "symbolSize": 300, "symbolOffset": 22.75, "labelOffset": 6.5, "labelFontSize": 27, "labelFontWeight": "bold", "rowPadding": 11, "symbolStrokeWidth": 1.2, "symbolOpacity": 1}},
       "stroke": {"field": "series", "type": "nominal",
         "scale": {"domain": ["SslA-eGFP", "SbsC-eGFP", "S13240-eGFP", "eGFP", "BY4741"], "range": ["#000080", "#FF00FF", "#A0400A", "#00FFFF", "#000000"]}},
       "fill": {"field": "series", "type": "nominal",
         "scale": {"domain": ["SslA-eGFP", "SbsC-eGFP", "S13240-eGFP", "eGFP", "BY4741"], "range": ["#000080", "#FF00FF", "#FFFFFF", "transparent", "transparent"]}}
     }}
  ]
}
]
}
